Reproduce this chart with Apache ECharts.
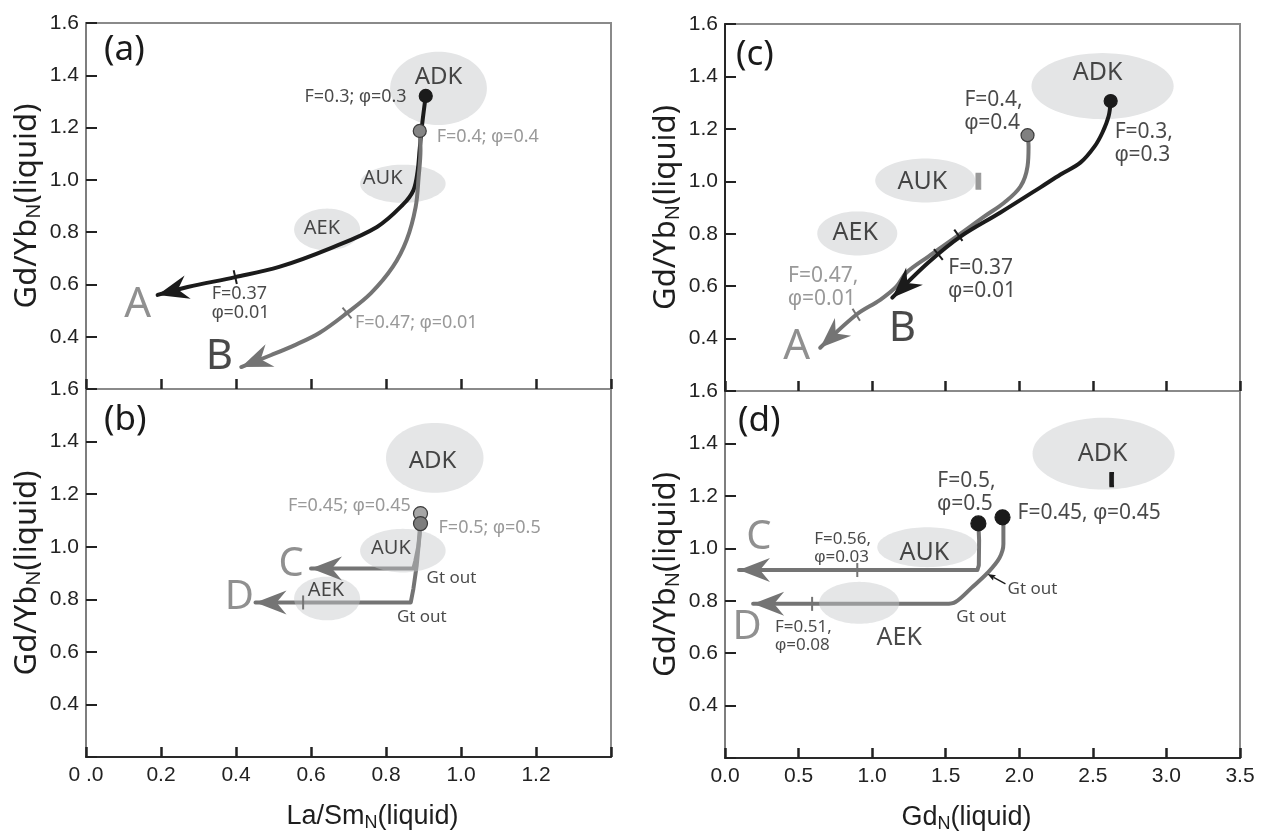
<!DOCTYPE html>
<html>
<head>
<meta charset="utf-8">
<script src="https://cdn.jsdelivr.net/npm/echarts@6/dist/echarts.min.js"></script>
<style>
  html, body { margin: 0; padding: 0; background: #ffffff; }
  #chart { width: 1266px; height: 839px; }
</style>
</head>
<body>
<div id="chart"></div>
<script>
// ---------- axis ticks ----------
const yTickValues = [0.2, 0.4, 0.6, 0.8, 1.0, 1.2, 1.4, 1.6];
const yTickLabels = ['', '0.4', '0.6', '0.8', '1.0', '1.2', '1.4', '1.6'];
const laSmTickLabels = ['0 .0', '0.2', '0.4', '0.6', '0.8', '1.0', '1.2', ''];
const gdTickLabels = ['0.0', '0.5', '1.0', '1.5', '2.0', '2.5', '3.0', '3.5'];

// ---------- compositional fields: [name, centre x, centre y, half-width, half-height] ----------
const fieldsA = [['ADK', 0.940, 1.350, 0.129, 0.140], ['AUK', 0.845, 0.985, 0.114, 0.073], ['AEK', 0.643, 0.810, 0.088, 0.080]];
const fieldsB = [['ADK', 0.930, 1.338, 0.130, 0.133], ['AUK', 0.845, 0.985, 0.114, 0.083], ['AEK', 0.643, 0.803, 0.088, 0.083]];
const fieldsC = [['ADK', 2.566, 1.363, 0.483, 0.126], ['AUK', 1.361, 1.003, 0.340, 0.084], ['AEK', 0.899, 0.801, 0.272, 0.084]];
const fieldsD = [['ADK', 2.573, 1.361, 0.483, 0.137], ['AUK', 1.375, 1.004, 0.340, 0.076], ['AEK', 0.912, 0.792, 0.272, 0.080]];

// field name anchors: [x, y, text]
const fieldNamesA = [[0.940, 1.394, 'ADK'], [0.791, 1.007, 'AUK'], [0.629, 0.816, 'AEK']];
const fieldNamesB = [[0.924, 1.327, 'ADK'], [0.813, 0.993, 'AUK'], [0.640, 0.834, 'AEK']];
const fieldNamesC = [[2.532, 1.413, 'ADK'], [1.341, 0.996, 'AUK'], [0.885, 0.804, 'AEK']];
const fieldNamesD = [[2.566, 1.361, 'ADK'], [1.355, 0.981, 'AUK'], [1.184, 0.659, 'AEK']];

// stray sample marks
const markGreyC = [[1.722, 1.000]];
const markBlackD = [[2.628, 1.262]];

// ---------- melting paths (La/Sm_N, Gd/Yb_N) ----------
const pathA_a = [[0.906, 1.321], [0.897, 1.22], [0.890, 1.12], [0.884, 1.03], [0.873, 0.96], [0.845, 0.905],
                 [0.776, 0.820], [0.653, 0.739], [0.515, 0.667], [0.398, 0.628], [0.271, 0.590], [0.191, 0.560]];
const pathB_a = [[0.890, 1.187], [0.892, 1.114], [0.887, 1.011], [0.879, 0.896], [0.855, 0.770], [0.818, 0.667],
                 [0.760, 0.567], [0.696, 0.491], [0.622, 0.414], [0.560, 0.370], [0.494, 0.330], [0.414, 0.284]];
const pathC_b = [[0.892, 1.088], [0.886, 1.000], [0.878, 0.945], [0.873, 0.917], [0.600, 0.917]];
const pathD_b = [[0.892, 1.126], [0.890, 1.050], [0.882, 0.930], [0.873, 0.840], [0.866, 0.788], [0.452, 0.788]];

// ---------- melting paths (Gd_N, Gd/Yb_N) ----------
const pathB_c = [[2.621, 1.306], [2.607, 1.248], [2.566, 1.187], [2.512, 1.133], [2.417, 1.072], [2.280, 1.026],
                 [2.144, 0.977], [1.872, 0.881], [1.600, 0.789], [1.382, 0.690], [1.137, 0.556]];
const pathA_c = [[2.056, 1.176], [2.063, 1.133], [2.056, 1.057], [2.008, 0.980], [1.899, 0.919], [1.763, 0.866],
                 [1.573, 0.789], [1.382, 0.713], [1.232, 0.651], [1.164, 0.598], [1.055, 0.548], [0.892, 0.491], [0.647, 0.365]];
const pathC_d = [[1.722, 1.095], [1.727, 1.030], [1.725, 0.935], [1.715, 0.917], [0.095, 0.917]];
const pathD_d = [[1.886, 1.118], [1.892, 1.090], [1.892, 1.016], [1.865, 0.963], [1.784, 0.906], [1.675, 0.849],
                 [1.566, 0.795], [1.500, 0.788], [0.191, 0.788]];

// F / phi marks along the paths (x positions)
const marksA_a = [0.398];
const marksB_a = [0.696];
const marksD_b = [0.579];
const marksB_c = [1.450];
const marksA_c = [0.892];
const marksA_c_dark = [1.586];
const marksC_d = [0.899];
const marksD_d = [0.592];

// ---------- annotations: [x, y, text, alignment] ----------
const notesBlackA = [[0.855, 1.317, 'F=0.3; φ=0.3', 'right'], [0.335, 0.529, 'F=0.37\nφ=0.01', 'left']];
const notesGreyA = [[0.935, 1.164, 'F=0.4; φ=0.4', 'left'], [0.717, 0.452, 'F=0.47; φ=0.01', 'left']];
const notesGreyB = [[0.866, 1.156, 'F=0.45; φ=0.45', 'right'], [0.940, 1.073, 'F=0.5; φ=0.5', 'left']];
const notesBlackB = [[0.908, 0.879, 'Gt out', 'left'], [0.829, 0.731, 'Gt out', 'left']];
const notesBlackC = [[1.627, 1.267, 'F=0.4,\nφ=0.4', 'left'], [2.648, 1.145, 'F=0.3,\nφ=0.3', 'left'], [1.518, 0.625, 'F=0.37\nφ=0.01', 'left']];
const notesGreyC = [[0.429, 0.596, 'F=0.47,\nφ=0.01', 'left']];
const notesLargeD = [[1.443, 1.213, 'F=0.5,\nφ=0.5', 'left'], [1.988, 1.133, 'F=0.45, φ=0.45', 'left']];
const notesSmallD = [[0.606, 1.000, 'F=0.56,\nφ=0.03', 'left'], [0.340, 0.663, 'F=0.51,\nφ=0.08', 'left']];
const notesGtD = [[1.920, 0.845, 'Gt out', 'left'], [1.572, 0.739, 'Gt out', 'left']];
const gtPointerD = [[1.784, 0.902, 1.906, 0.864]];

// end-member letters
const lettersGreyA = [[0.138, 0.521, 'A']];
const lettersBlackA = [[0.356, 0.322, 'B']];
const lettersGreyB = [[0.547, 0.933, 'C'], [0.409, 0.807, 'D']];
const lettersGreyC = [[0.487, 0.368, 'A']];
const lettersBlackC = [[1.205, 0.437, 'B']];
const lettersGreyD = [[0.231, 1.042, 'C'], [0.150, 0.697, 'D']];

const panelTags = ['(a)', '(b)', '(c)', '(d)'];

// ---------- look ----------
const SANS = "'Noto Sans', 'Open Sans', sans-serif";
const PHI_FONT = "'Liberation Sans', 'DejaVu Sans', sans-serif";
const NARROW = "'Liberation Sans Narrow', 'Arial Narrow', 'Liberation Sans', sans-serif";
const INK = '#1b1b1b';
const GREY = '#747474';
const GREY_TXT = '#808080';
const FIELD = '#e4e5e6';
const HEAD = [31, 12, 21];

const GRIDS = [
  { left: 86, top: 23, width: 525, height: 366 },
  { left: 86, top: 389, width: 525, height: 368 },
  { left: 725, top: 24, width: 515, height: 367 },
  { left: 725, top: 391, width: 515, height: 367 }
];
const TAG_POS = [[104, 33], [104, 403], [736, 38], [738, 404]];

// ---------- helpers ----------
function yName() {
  return {
    name: '{m|Gd/Yb}{s|N}{m|(liquid)}',
    nameLocation: 'middle', nameRotate: 90, nameGap: 42,
    nameTextStyle: {
      rich: {
        m: { fontSize: 31, fontFamily: SANS, color: '#1e1e1e' },
        s: { fontSize: 20, fontFamily: SANS, color: '#1e1e1e', padding: [13, 0, 0, 0] }
      }
    }
  };
}

function makeYAxis(gi) {
  return Object.assign({
    gridIndex: gi, type: 'value', min: 0.2, max: 1.6, interval: 0.2,
    axisLine: { show: true, onZero: false, lineStyle: { color: '#7e7e7e', width: 2 } },
    axisTick: { show: true, inside: true, length: 11, lineStyle: { color: '#222', width: 2 } },
    axisLabel: {
      margin: 7, fontSize: 21, color: '#222', fontFamily: NARROW,
      formatter: v => yTickLabels[Math.round((v - 0.2) / 0.2)] || ''
    },
    splitLine: { show: false }
  }, yName());
}

function makeXAxis(gi, max, interval, labels, name, namePad) {
  const ax = {
    gridIndex: gi, type: 'value', min: 0, max: max, interval: interval,
    axisLine: { show: !!labels, onZero: false, lineStyle: { color: '#2a2a2a', width: 2 } },
    axisTick: { show: true, inside: true, length: 10, lineStyle: { color: '#222', width: 2.5 } },
    axisLabel: labels ? {
      margin: 8, fontSize: 21, color: '#222', fontFamily: NARROW,
      formatter: v => labels[Math.round(v / interval)] || ''
    } : { show: false },
    splitLine: { show: false }
  };
  if (name) {
    Object.assign(ax, {
      name: name, nameLocation: 'middle', nameGap: 45,
      nameTextStyle: {
        padding: namePad,
        rich: {
          m: { fontSize: 27, fontFamily: NARROW, color: '#1e1e1e' },
          s: { fontSize: 18, fontFamily: NARROW, color: '#1e1e1e', padding: [12, 0, 0, 0] }
        }
      }
    });
  }
  return ax;
}

function fieldSeries(gi, fields, onTop) {
  return {
    type: 'custom', xAxisIndex: gi, yAxisIndex: gi, silent: true, z: onTop ? 4 : 1,
    data: fields.map(f => [f[1], f[2], f[3], f[4]]),
    renderItem: (params, api) => {
      const c = api.coord([api.value(0), api.value(1)]);
      const s = api.size([api.value(2), api.value(3)]);
      const pts = [];
      for (let k = 0; k < 96; k++) {
        const t = (k / 96) * Math.PI * 2;
        pts.push([c[0] + s[0] * Math.cos(t), c[1] + s[1] * Math.sin(t)]);
      }
      return {
        type: 'polygon', shape: { points: pts },
        style: onTop ? { fill: 'rgba(198,200,202,0.46)' } : { fill: FIELD }
      };
    }
  };
}

function pathSeries(gi, path, color, smooth) {
  return {
    type: 'line', xAxisIndex: gi, yAxisIndex: gi, data: path, smooth: smooth ? 0.35 : false,
    showSymbol: false, silent: true, z: 3,
    lineStyle: { color: color, width: 4, cap: 'round', join: 'round' }
  };
}

// arrow heads drawn at the end of a path, pointing along its last segment
function arrowSeries(gi, items, color, size) {
  const L = size[0], W = size[1], N = size[2];
  return {
    type: 'custom', xAxisIndex: gi, yAxisIndex: gi, silent: true, z: 5,
    data: items,
    renderItem: (params, api) => {
      const tip = api.coord([api.value(0), api.value(1)]);
      const from = api.coord([api.value(2), api.value(3)]);
      let dx = tip[0] - from[0], dy = tip[1] - from[1];
      const len = Math.hypot(dx, dy) || 1;
      dx /= len; dy /= len;
      const nx = -dy, ny = dx;
      const pts = [
        tip,
        [tip[0] - L * dx + W * nx, tip[1] - L * dy + W * ny],
        [tip[0] - N * dx, tip[1] - N * dy],
        [tip[0] - L * dx - W * nx, tip[1] - L * dy - W * ny]
      ];
      const children = [{ type: 'polygon', shape: { points: pts }, style: { fill: color } }];
      if (api.value(4)) {
        children.push({ type: 'line', shape: { x1: from[0], y1: from[1], x2: tip[0] - N * dx, y2: tip[1] - N * dy },
          style: { stroke: color, lineWidth: 1.3 } });
      }
      return { type: 'group', children: children };
    }
  };
}
function headOf(path) {
  const a = path[path.length - 1], b = path[path.length - 2];
  return [a[0], a[1], b[0], b[1], 0];
}

function pointOn(path, x) {
  for (let i = 0; i < path.length - 1; i++) {
    const p = path[i], q = path[i + 1];
    if ((x - p[0]) * (x - q[0]) <= 0 && p[0] !== q[0]) {
      const t = (x - p[0]) / (q[0] - p[0]);
      return [x, p[1] + t * (q[1] - p[1]), p[0], p[1], q[0], q[1]];
    }
  }
  return null;
}

// short cross-marks on a path
function markSeries(gi, path, xs, color) {
  return {
    type: 'custom', xAxisIndex: gi, yAxisIndex: gi, silent: true, z: 6,
    data: xs.map(x => pointOn(path, x)).filter(Boolean),
    renderItem: (params, api) => {
      const c = api.coord([api.value(0), api.value(1)]);
      const p = api.coord([api.value(2), api.value(3)]);
      const q = api.coord([api.value(4), api.value(5)]);
      let dx = q[0] - p[0], dy = q[1] - p[1];
      const len = Math.hypot(dx, dy) || 1;
      const nx = -dy / len * 7, ny = dx / len * 7;
      return { type: 'line', shape: { x1: c[0] - nx, y1: c[1] - ny, x2: c[0] + nx, y2: c[1] + ny },
        style: { stroke: color, lineWidth: 2 } };
    }
  };
}

function dotSeries(gi, pts, fill, stroke, size, symbol) {
  return {
    type: 'scatter', xAxisIndex: gi, yAxisIndex: gi, silent: true, z: 7,
    data: pts, symbolSize: size, symbol: symbol || 'circle',
    itemStyle: { color: fill, borderColor: stroke, borderWidth: 1.2, opacity: 1 }
  };
}

// text with the Greek phi set in a font that draws the looped form
function richText(str) {
  return str.split('\n').map(line =>
    line.split('φ').map(s => (s ? '{t|' + s + '}' : '')).join('{p|φ}')
  ).join('\n');
}

function textSeries(gi, items, style) {
  const lh = Math.round(style.fontSize * 1.08);
  return {
    type: 'scatter', xAxisIndex: gi, yAxisIndex: gi, silent: true, z: 8,
    symbolSize: 0,
    data: items.map(d => ({ value: [d[0], d[1]], name: d[2], label: { align: d[3] || 'center' } })),
    label: {
      show: true, position: 'inside', verticalAlign: 'middle',
      formatter: p => richText(p.name),
      rich: {
        t: { fontSize: style.fontSize, color: style.color, fontFamily: SANS, lineHeight: lh, fontWeight: style.fontWeight || 'normal' },
        p: { fontSize: style.fontSize * 1.02, color: style.color, fontFamily: PHI_FONT, lineHeight: lh }
      }
    }
  };
}

const txt = (size, color, weight) => ({ fontSize: size, color: color, fontWeight: weight });

// ---------- series ----------
const series = [
  // (a)
  fieldSeries(0, fieldsA, false),
  pathSeries(0, pathA_a, INK, true),
  pathSeries(0, pathB_a, GREY, true),
  arrowSeries(0, [headOf(pathA_a)], INK, HEAD),
  arrowSeries(0, [headOf(pathB_a)], GREY, HEAD),
  markSeries(0, pathA_a, marksA_a, INK),
  markSeries(0, pathB_a, marksB_a, GREY),
  dotSeries(0, [pathA_a[0]], INK, INK, 13),
  dotSeries(0, [pathB_a[0]], '#858585', '#3a3a3a', 13),
  textSeries(0, fieldNamesA.slice(0, 1), txt(24, INK)),
  textSeries(0, fieldNamesA.slice(1), txt(20, INK)),
  textSeries(0, notesBlackA, txt(18, INK)),
  textSeries(0, notesGreyA, txt(18, GREY_TXT)),
  textSeries(0, lettersGreyA, txt(42, GREY)),
  textSeries(0, lettersBlackA, txt(42, INK)),

  // (b)
  pathSeries(1, pathC_b, GREY, false),
  pathSeries(1, pathD_b, GREY, false),
  fieldSeries(1, fieldsB, true),
  arrowSeries(1, [headOf(pathC_b), headOf(pathD_b)], GREY, HEAD),
  markSeries(1, pathD_b, marksD_b, GREY),
  dotSeries(1, [pathD_b[0]], '#a6a6a6', '#3a3a3a', 14),
  dotSeries(1, [pathC_b[0]], '#7d7d7d', '#3a3a3a', 14),
  textSeries(1, fieldNamesB.slice(0, 1), txt(24, INK)),
  textSeries(1, fieldNamesB.slice(1), txt(20, INK)),
  textSeries(1, notesGreyB, txt(18, GREY_TXT)),
  textSeries(1, notesBlackB, txt(17, INK)),
  textSeries(1, lettersGreyB, txt(40, GREY)),

  // (c)
  fieldSeries(2, fieldsC, false),
  pathSeries(2, pathA_c, GREY, true),
  pathSeries(2, pathB_c, INK, true),
  arrowSeries(2, [headOf(pathA_c)], GREY, HEAD),
  arrowSeries(2, [headOf(pathB_c)], INK, HEAD),
  markSeries(2, pathB_c, marksB_c, INK),
  markSeries(2, pathA_c, marksA_c, GREY),
  markSeries(2, pathA_c, marksA_c_dark, INK),
  dotSeries(2, [pathB_c[0]], INK, INK, 13),
  dotSeries(2, [pathA_c[0]], '#808080', '#3a3a3a', 13),
  dotSeries(2, markGreyC, '#9a9a9a', '#9a9a9a', [5, 15], 'rect'),
  textSeries(2, fieldNamesC, txt(25, INK)),
  textSeries(2, notesBlackC, txt(21, INK)),
  textSeries(2, notesGreyC, txt(21, GREY_TXT)),
  textSeries(2, lettersGreyC, txt(42, GREY)),
  textSeries(2, lettersBlackC, txt(42, INK)),

  // (d)
  pathSeries(3, pathC_d, GREY, false),
  pathSeries(3, pathD_d, GREY, true),
  fieldSeries(3, fieldsD, true),
  arrowSeries(3, [headOf(pathC_d), headOf(pathD_d)], GREY, HEAD),
  arrowSeries(3, [[gtPointerD[0][0], gtPointerD[0][1], gtPointerD[0][2], gtPointerD[0][3], 1]], INK, [8, 3, 7]),
  markSeries(3, pathC_d, marksC_d, GREY),
  markSeries(3, pathD_d, marksD_d, GREY),
  dotSeries(3, [pathC_d[0], pathD_d[0]], INK, INK, 15),
  dotSeries(3, markBlackD, INK, INK, [4, 13], 'rect'),
  textSeries(3, fieldNamesD, txt(25, INK)),
  textSeries(3, notesLargeD, txt(21, INK)),
  textSeries(3, notesSmallD, txt(17, INK)),
  textSeries(3, notesGtD, txt(17, INK)),
  textSeries(3, lettersGreyD, txt(40, GREY))
];

const option = {
  backgroundColor: '#ffffff',
  animation: false,
  title: panelTags.map((t, i) => ({
    text: t, left: TAG_POS[i][0], top: TAG_POS[i][1], padding: 0,
    textStyle: { fontSize: 35, fontWeight: 'normal', fontFamily: SANS, color: '#1a1a1a' }
  })),
  grid: GRIDS.map(g => Object.assign({ show: true, borderColor: '#8a8a8a', borderWidth: 2, containLabel: false }, g)),
  xAxis: [
    makeXAxis(0, 1.4, 0.2, null),
    makeXAxis(1, 1.4, 0.2, laSmTickLabels, '{m|La/Sm}{s|N}{m|(liquid)}', [0, 0, 0, 48]),
    makeXAxis(2, 3.5, 0.5, null),
    makeXAxis(3, 3.5, 0.5, gdTickLabels, '{m|Gd}{s|N}{m|(liquid)}', [0, 32, 0, 0])
  ],
  yAxis: [makeYAxis(0), makeYAxis(1), makeYAxis(2), makeYAxis(3),
    { gridIndex: 2, type: 'value', position: 'right', min: 0.2, max: 1.6,
      axisLine: { show: true, lineStyle: { color: '#262626', width: 2 } },
      axisTick: { show: false }, axisLabel: { show: false }, splitLine: { show: false } }
  ],
  series: series
};

const chart = echarts.init(document.getElementById('chart'));
chart.setOption(option);
</script>
</body>
</html>
